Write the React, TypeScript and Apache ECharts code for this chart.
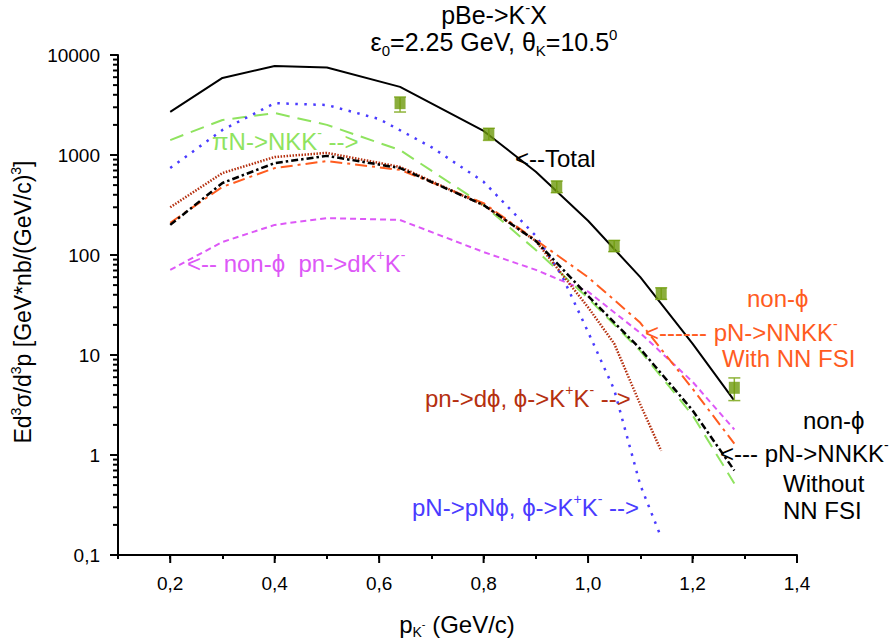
import React, { useEffect, useRef } from "react";
import * as echarts from "echarts";

const FONT = "'Liberation Sans', Arial, Helvetica, sans-serif";
const PHI = "ϕ";

// Shared momentum grid (GeV/c)
const pK = [0.2, 0.3, 0.4, 0.5, 0.64, 0.8, 0.9, 1.0, 1.1, 1.2, 1.28];
const total = [2700, 5900, 7760, 7500, 4800, 1740, 680, 220, 60, 13, 3.5];
const piNtoNKK = [1410, 2240, 2630, 2000, 1120, 316, 112, 37, 11, 2.5, 0.52];
const withoutFSI = [200, 525, 830, 980, 740, 316, 138, 39, 11.5, 2.8, 0.7];
const withFSI = [210, 480, 740, 870, 710, 330, 141, 60, 21, 4.6, 1.3];
const nonPhiDKK = [71, 135, 200, 234, 224, 107, 71, 43, 16.6, 5.4, 1.8];

const pNphiX = [0.2, 0.3, 0.4, 0.5, 0.6, 0.7, 0.8, 0.9, 0.95, 1.0, 1.05, 1.1, 1.14];
const pNphi = [740, 1780, 3300, 3160, 2290, 1200, 540, 155, 62, 17, 4.5, 0.5, 0.15];

const dPhiX = [0.2, 0.3, 0.4, 0.5, 0.64, 0.8, 0.9, 1.0, 1.05, 1.1, 1.14];
const dPhi = [300, 660, 955, 1050, 760, 316, 138, 30, 13, 3.2, 1.1];

// Experimental points
const expX = [0.64, 0.81, 0.94, 1.05, 1.14, 1.28];
const expY = [3300, 1620, 480, 123, 41, 4.7];
const expLo = [2690, 1400, 420, 108, 36, 3.5];
const expHi = [3800, 1850, 550, 140, 47, 5.9];

// Ticks
const xMajorTicks = [0.2, 0.4, 0.6, 0.8, 1.0, 1.2, 1.4];
const yDecades = [0.1, 1, 10, 100, 1000];
const yMantissas = [2, 3, 4, 5, 6, 7, 8, 9];

const zip = (xs: number[], ys: number[]) => xs.map((x, i) => [x, ys[i]]);

const richFor = (size: number, color: string) => ({
  sup: { fontSize: Math.round(size * 0.6), lineHeight: Math.round(size * 0.6), verticalAlign: "top", fill: color, color, fontFamily: FONT },
  sub: { fontSize: Math.round(size * 0.6), lineHeight: Math.round(size * 0.6), verticalAlign: "bottom", fill: color, color, fontFamily: FONT },
  subsup: { fontSize: Math.round(size * 0.45), lineHeight: Math.round(size * 0.45), verticalAlign: "middle", fill: color, color, fontFamily: FONT },
});

const T = (text: string, x: number, y: number, color: string, size = 24, align = "left", extra: any = {}) => ({
  type: "text",
  x,
  y,
  z: 100,
  ...extra,
  style: {
    text,
    fill: color,
    fontSize: size,
    fontFamily: FONT,
    lineHeight: Math.round(size * 1.25),
    align,
    textAlign: align,
    verticalAlign: "middle",
    textVerticalAlign: "middle",
    rich: richFor(size, color),
  },
});

const lineSeries = (name: string, data: number[][], color: string, width: number, type: any, z = 2) => ({
  name,
  type: "line",
  data,
  showSymbol: false,
  symbol: "none",
  smooth: false,
  z,
  lineStyle: { color, width, type, cap: "butt" },
});

export default function App() {
  const ref = useRef<HTMLDivElement>(null);
  useEffect(() => {
    if (!ref.current) return;
    const chart = echarts.init(ref.current, null, { renderer: "svg" });
    const yMinor: number[][] = [];
    yDecades.forEach((d) => yMantissas.forEach((m) => yMinor.push([0.1, +(m * d).toPrecision(3)])));

    const option: any = {
      animation: false,
      backgroundColor: "#fff",
      grid: { left: 118, right: 98, top: 55, bottom: 85, containLabel: false },
      xAxis: {
        type: "value",
        min: 0.1,
        max: 1.4,
        interval: 0.1,
        axisLine: { show: true, onZero: false, lineStyle: { color: "#000", width: 2 } },
        axisTick: { show: true, length: 4, lineStyle: { color: "#000", width: 2 } },
        axisLabel: {
          color: "#000",
          fontSize: 19,
          fontFamily: FONT,
          margin: 19,
          formatter: (v: number) => {
            const t = Math.round(v * 10);
            return t % 2 === 0 ? (t / 10).toFixed(1).replace(".", ",") : "";
          },
        },
        splitLine: { show: false },
      },
      yAxis: {
        type: "log",
        logBase: 10,
        min: 0.1,
        max: 10000,
        axisLine: { show: true, lineStyle: { color: "#000", width: 2 } },
        axisTick: { show: true, length: 8, lineStyle: { color: "#000", width: 2 } },
        minorTick: { show: false },
        axisLabel: {
          color: "#000",
          fontSize: 19,
          fontFamily: FONT,
          margin: 18,
          formatter: (v: number) => (v < 1 ? String(+v.toPrecision(2)).replace(".", ",") : String(Math.round(v))),
        },
        splitLine: { show: false },
      },
      series: [
        lineSeries("nonPhiDKK", zip(pK, nonPhiDKK), "#dd58f7", 2, [6, 4]),
        lineSeries("piN", zip(pK, piNtoNKK), "#8fe35f", 2, [14, 8]),
        lineSeries("pNphi", zip(pNphiX, pNphi), "#4a3bff", 2.5, [2.5, 6.5]),
        lineSeries("withFSI", zip(pK, withFSI), "#ff5c1f", 2, [12, 5, 3, 5]),
        lineSeries("dPhi", zip(dPhiX, dPhi), "#b5300f", 2.5, [1.5, 1.5]),
        lineSeries("withoutFSI", zip(pK, withoutFSI), "#000000", 2.5, [7, 3, 2.5, 3]),
        lineSeries("total", zip(pK, total), "#000000", 2, "solid", 3),
        {
          name: "errors",
          type: "custom",
          clip: false,
          z: 4,
          data: expX.map((x, i) => [x, expLo[i], expHi[i]]),
          encode: { x: 0, y: [1, 2] },
          renderItem: (params: any, api: any) => {
            const lo = api.coord([api.value(0), api.value(1)]);
            const hi = api.coord([api.value(0), api.value(2)]);
            const st = { stroke: "#8fb43a", lineWidth: 1.5 };
            return {
              type: "group",
              children: [
                { type: "line", shape: { x1: lo[0], y1: lo[1], x2: hi[0], y2: hi[1] }, style: st },
                { type: "line", shape: { x1: lo[0] - 6, y1: lo[1], x2: lo[0] + 6, y2: lo[1] }, style: st },
                { type: "line", shape: { x1: hi[0] - 6, y1: hi[1], x2: hi[0] + 6, y2: hi[1] }, style: st },
              ],
            };
          },
        },
        {
          name: "exp",
          type: "scatter",
          z: 5,
          symbol: "rect",
          symbolSize: [11, 12],
          itemStyle: { color: "#6e9a0c" },
          data: zip(expX, expY),
        },
        {
          name: "xMajorTicks",
          type: "custom",
          clip: false,
          silent: true,
          z: 6,
          data: xMajorTicks.map((x) => [x, 0.1]),
          encode: { x: 0, y: 1 },
          renderItem: (params: any, api: any) => {
            const p = api.coord([api.value(0), api.value(1)]);
            return { type: "line", shape: { x1: p[0], y1: p[1], x2: p[0], y2: p[1] + 8 }, style: { stroke: "#000", lineWidth: 2 } };
          },
        },
        {
          name: "yMinorTicks",
          type: "custom",
          clip: false,
          silent: true,
          z: 6,
          data: yMinor,
          encode: { x: 0, y: 1 },
          renderItem: (params: any, api: any) => {
            const p = api.coord([api.value(0), api.value(1)]);
            return { type: "line", shape: { x1: p[0] - 5, y1: p[1], x2: p[0], y2: p[1] }, style: { stroke: "#000", lineWidth: 2 } };
          },
        },
      ],
      graphic: [
        T("pBe->K{sup|-}X", 494, 15, "#000", 25, "center"),
        T("ε{sub|0}=2.25 GeV, θ{sub|K}=10.5{sup|0}", 494, 42, "#000", 25, "center"),
        T("Ed{sup|3}σ/d{sup|3}p [GeV*nb/(GeV/c){sup|3}]", 23, 302, "#000", 23, "center", { rotation: Math.PI / 2 }),
        T("p{sub|K}{subsup|-} (GeV/c)", 457, 624, "#000", 24, "center"),
        T("πN->NKK{sup|-} -->", 212, 141, "#8fe35f", 24),
        T("<--Total", 515, 158, "#000", 24),
        T(`<-- non-${PHI}  pn->dK{sup|+}K{sup|-}`, 187, 263, "#dd58f7", 24),
        T(`non-${PHI}`, 747, 298, "#ff5c1f", 24),
        T("<------ pN->NNKK{sup|-}", 645, 332, "#ff5c1f", 24),
        T("With NN FSI", 722, 358, "#ff5c1f", 24),
        T(`pn->d${PHI}, ${PHI}->K{sup|+}K{sup|-} -->`, 425, 398, "#b5300f", 24),
        T(`non-${PHI}`, 803, 420, "#000", 24),
        T("<--- pN->NNKK{sup|-}", 720, 453, "#000", 24),
        T("Without", 783, 483, "#000", 24),
        T("NN FSI", 783, 510, "#000", 24),
        T(`pN->pN${PHI}, ${PHI}->K{sup|+}K{sup|-} -->`, 412, 507, "#4a3bff", 24),
      ],
    };
    chart.setOption(option);
    return () => chart.dispose();
  }, []);
  return <div ref={ref} style={{ position: "absolute", left: 0, top: 0, width: 895, height: 640 }} />;
}
